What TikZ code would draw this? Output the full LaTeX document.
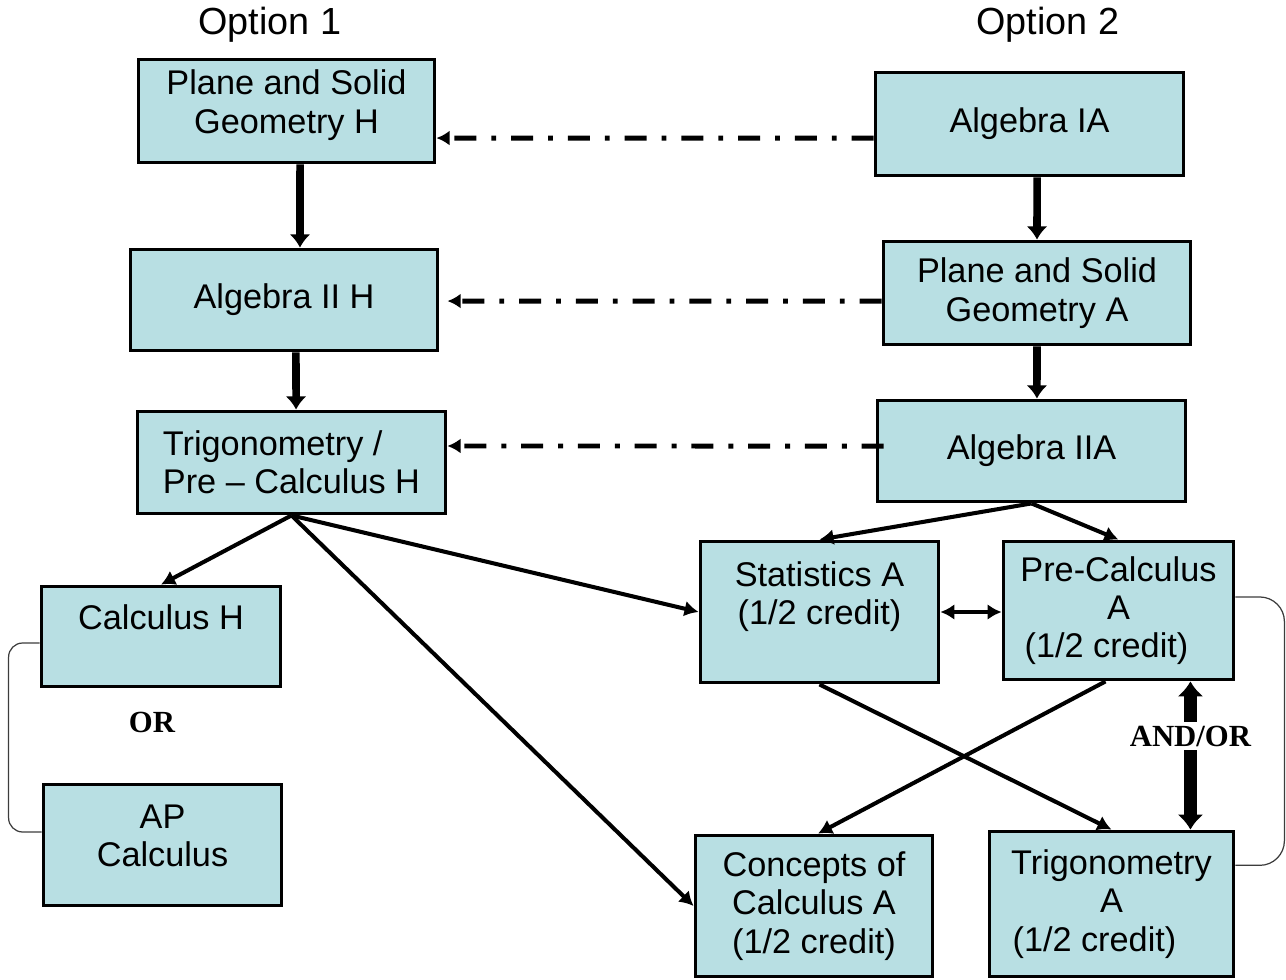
\documentclass[tikz,border=0pt]{standalone}
\usepackage{fontspec}
\setmainfont{Liberation Sans}
\newfontfamily\orfont{Liberation Serif}
\usepackage{tikz}
\usetikzlibrary{arrows.meta}
\definecolor{boxclr}{RGB}{184,223,227}
\definecolor{brkclr}{RGB}{60,60,60}
\tikzset{ %
  ,>={Latex[length=8pt,width=9pt]}
  ,every node/.style={font=\fontsize{19.5}{21.8}\selectfont}
  ,course/.style 2 args={draw, line width=2.2pt, fill=boxclr, align=center, inner sep=0, minimum width=#1cm, minimum height=#2cm}
  ,title/.style={font=\fontsize{21.5}{24}\selectfont}
  ,choice/.style={font=\fontsize{17.5}{20}\orfont\bfseries, inner sep=2pt}
  ,flow/.style={->, line width=2.3pt}
  ,down/.style={-{Latex[length=7.5pt,width=12pt]}, line width=4.3pt}
  ,link/.style={-{Latex[length=7.5pt,width=8.5pt]}, line width=2.8pt, dash pattern=on 12.5pt off 8.5pt on 2.8pt off 8.5pt}
  ,both/.style={{Latex[length=8.5pt,width=15pt]}-{Latex[length=8.5pt,width=15pt]}, line width=7pt}
  ,bracket/.style={draw=brkclr, line width=0.7pt}
}

\begin{document}
\begin{tikzpicture}[x=0.02cm, y=-0.02cm]
  \useasboundingbox (0,0) rectangle (1286,980);
  \draw
  node[title] (opt1) at (270,25) {Option 1}
  node[title] (opt2) at (1048,25) {Option 2}
  node[course={5.92}{2.06}] (psgh) at (286.5,111) {Plane and Solid\\Geometry H\\[-11pt]\mbox{}}
  node[course={6.16}{2.06}] (algia) at (1029.5,124) {Algebra IA}
  node[course={6.14}{2.02}] (alg2h) at (284,300) {Algebra II H}
  node[course={6.14}{2.06}] (psga) at (1037,293) {Plane and Solid\\Geometry A}
  node[course={6.16}{2.04}, align=left] (trigh) at (291.5,462.5) {Trigonometry /\\Pre – Calculus H}
  node[course={6.16}{2.02}] (alg2a) at (1031.5,451) {Algebra IIA}
  node[course={4.76}{2.82}] (stata) at (819.5,612) {Statistics A\\(1/2 credit)\\\mbox{}}
  node[course={4.60}{2.76}] (precalca) at (1118.5,610.5) {Pre-Calculus\\A\\(1/2 credit)\hspace*{13.7pt}}
  node[course={4.78}{2.00}] (calch) at (161,636.5) {Calculus H\\\mbox{}}
  node[course={4.76}{2.42}] (apcalc) at (162.5,845) {AP\\Calculus\\[-11.5pt]\mbox{}}
  node[course={4.74}{2.82}] (concepta) at (814,906) {Concepts of\\Calculus A\\(1/2 credit)}
  node[course={4.88}{2.90}] (triga) at (1111.5,904) {Trigonometry\\A\\(1/2 credit)\hspace*{19.4pt}}
  node[choice] (or) at (152,722) {OR};
  % straight down in each option
  \draw[down] ([xshift=7.7pt]psgh.south) -- ([xshift=9.1pt]alg2h.north);
  \draw[down] ([xshift=6.8pt]alg2h.south) -- ([xshift=2.6pt]trigh.north);
  \draw[down] ([xshift=4.3pt]algia.south) -- (psga.north);
  \draw[down] (psga.south) -- ([xshift=3.1pt]alg2a.north);
  % switching from option 2 to option 1
  \draw[link] ([yshift=-8pt]algia.west) -- ([yshift=-15.4pt]psgh.east);
  \draw[link] ([yshift=-4.6pt]psga.west) -- ([xshift=4.6pt,yshift=-0.6pt]alg2h.east);
  \draw[link] ([xshift=4.6pt,yshift=2.8pt]alg2a.west) -- ([yshift=9.4pt]trigh.east);
  \path[flow] (trigh.south) edge (calch.north) edge (stata.west) edge (concepta.west);
  \path[flow] (alg2a.south) edge (stata.north) edge (precalca.north);
  \path[flow] (stata.south) edge (triga.north) ([xshift=-7.4pt]precalca.south) edge ([xshift=2.3pt]concepta.north);
  \draw[flow, <->] (stata.east) -- (stata.east -| precalca.west);
  \coordinate (andor) at ([xshift=-25.6pt]precalca.south east);
  \draw[both] (andor) -- (andor |- triga.north) node[choice, pos=0.37, fill=white] (andorlbl) {AND/OR};
  \draw[bracket, rounded corners=8pt] ([yshift=-3.7pt]calch.west) -- ++(-31,0) |- ([yshift=7.4pt]apcalc.west);
  \draw[bracket, rounded corners=14pt] ([yshift=7.7pt]precalca.east) -- ++(49,0) |- ([yshift=22pt]triga.east);
\end{tikzpicture}
\end{document}
